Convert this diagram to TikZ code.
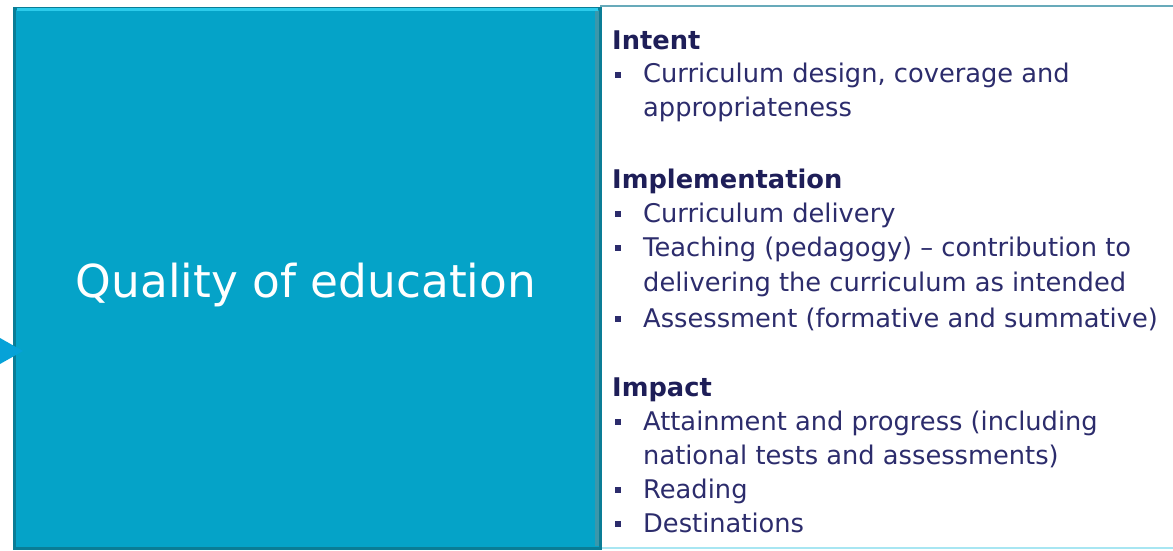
\documentclass[tikz,border=0pt]{standalone}
\usepackage{fontspec}
\setmainfont{DejaVu Sans}
\definecolor{teal1}{HTML}{05A3C8}
\definecolor{tealdark}{HTML}{0A7D96}
\definecolor{teallight}{HTML}{2CCBEB}
\definecolor{arrowc}{HTML}{06A2D8}
\definecolor{navy}{HTML}{2C2C6C}
\definecolor{navyb}{HTML}{1E1E58}
\definecolor{cyanline}{HTML}{A8E6F2}
\begin{document}
\begin{tikzpicture}[x=1pt,y=-1pt,
  body/.style={anchor=base west,inner sep=0pt,text=navy,font=\fontsize{25.7}{30}\selectfont},
  head/.style={anchor=base west,inner sep=0pt,text=navyb,font=\fontsize{25.7}{30}\selectfont\bfseries},
  bul/.style={fill=navy,minimum size=5.5pt,inner sep=0pt,draw=none},
  title/.style={text=white,font=\fontsize{45.4}{52}\selectfont}]
\useasboundingbox (0,0) rectangle (1173,551);
% right panel
\node[fill=white,draw=none,minimum width=573pt,minimum height=542pt,inner sep=0pt,anchor=north west] (r) at (600,6) {};
\draw[teal1!70!black!60,line width=2pt] (r.north west) -- (r.north east);
\draw[cyanline,line width=2pt] (r.south west) -- (r.south east);
% left box
\node[fill=teal1,draw=tealdark,line width=3pt,minimum width=586pt,minimum height=540pt,inner sep=0pt,anchor=north west] (q) at (13,7) {};
\draw[teallight,line width=3pt] ([xshift=4pt,yshift=-3pt]q.north west) -- ([xshift=-4pt,yshift=-3pt]q.north east);
\draw[tealdark!80,line width=4pt] ([xshift=-5pt,yshift=-4pt]q.north east) -- ([xshift=-5pt,yshift=4pt]q.south east);
\node[title] (qt) at (306,285) {Quality of education};
% arrow
\fill[arrowc] (0,338) -- (23,351) -- (0,364) -- cycle;
% text
\node[head] (h1) at (612,50) {Intent};
\node[bul] at (618,75) {}; \node[body] (l1) at (643,83) {Curriculum design, coverage and};
\node[body] (l2) at (643,117) {appropriateness};
\node[head] (h2) at (612,188) {Implementation};
\node[bul] at (618,214) {}; \node[body] (l3) at (643,222) {Curriculum delivery};
\node[bul] at (618,248) {}; \node[body] (l4) at (643,256) {Teaching (pedagogy) – contribution to};
\node[body] (l5) at (643,291) {delivering the curriculum as intended};
\node[bul] at (618,319) {}; \node[body] (l6) at (643,327) {Assessment (formative and summative)};
\node[head] (h3) at (612,396) {Impact};
\node[bul] at (618,422) {}; \node[body] (l7) at (643,430) {Attainment and progress (including};
\node[body] (l8) at (643,464) {national tests and assessments)};
\node[bul] at (618,490) {}; \node[body] (l9) at (643,498) {Reading};
\node[bul] at (618,524) {}; \node[body] (l10) at (643,532) {Destinations};
\end{tikzpicture}
\end{document}
